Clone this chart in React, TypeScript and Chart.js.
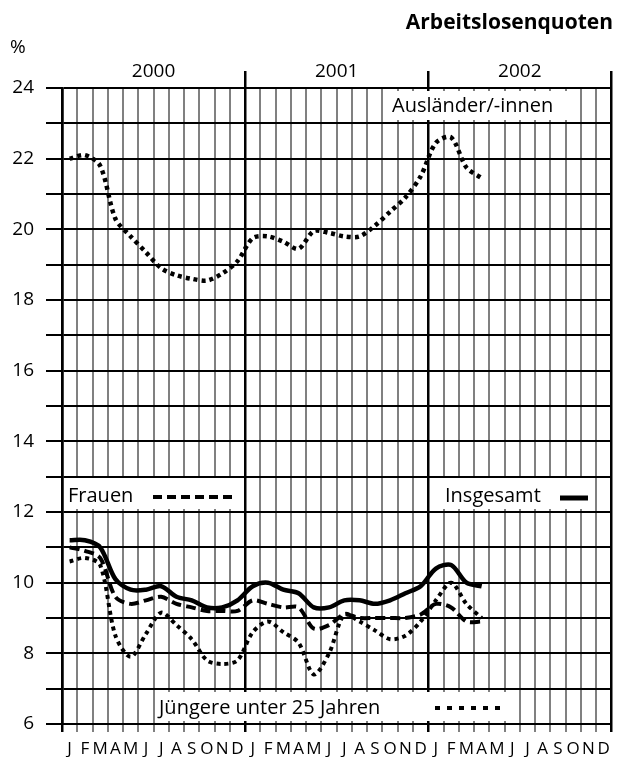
import React, { useEffect, useRef } from "react";
import { Chart, registerables } from "chart.js";

Chart.register(...registerables);

// ---- data ----
const monthLetters = ["J", "F", "M", "A", "M", "J", "J", "A", "S", "O", "N", "D"];
const monthLabels = [...monthLetters, ...monthLetters, ...monthLetters];
const yearLabels = ["2000", "2001", "2002"];

// Jan 2000 .. Apr 2002
const insgesamt = [
  11.2, 11.2, 11.0, 10.1, 9.8, 9.8, 9.9, 9.6, 9.5, 9.3, 9.3, 9.5,
  9.9, 10.0, 9.8, 9.7, 9.3, 9.3, 9.5, 9.5, 9.4, 9.5, 9.7, 9.9,
  10.4, 10.5, 10.0, 9.9,
];
const frauen = [
  11.0, 10.9, 10.7, 9.6, 9.4, 9.5, 9.6, 9.4, 9.3, 9.2, 9.2, 9.2,
  9.5, 9.4, 9.3, 9.3, 8.7, 8.8, 9.1, 9.0, 9.0, 9.0, 9.0, 9.1,
  9.4, 9.3, 8.9, 8.9,
];
const juengere = [
  10.6, 10.7, 10.5, 8.5, 7.9, 8.55, 9.15, 8.8, 8.4, 7.8, 7.7, 7.8,
  8.6, 8.9, 8.6, 8.3, 7.4, 8.0, 9.1, 8.9, 8.65, 8.4, 8.5, 8.9,
  9.5, 10.0, 9.4, 9.0,
];
const auslaender = [
  22.0, 22.1, 21.8, 20.3, 19.8, 19.35, 18.9, 18.7, 18.6, 18.55, 18.75, 19.1,
  19.75, 19.8, 19.65, 19.45, 19.95, 19.9, 19.8, 19.8, 20.1, 20.5, 20.9, 21.5,
  22.45, 22.6, 21.75, 21.45,
];

const yMin = 6;
const yMax = 24;
const titleText = "Arbeitslosenquoten";
const unitText = "%";
const labelInsgesamt = "Insgesamt";
const labelFrauen = "Frauen";
const labelJuengere = "Jüngere unter 25 Jahren";
const labelAuslaender = "Ausländer/-innen";

const FONT = "'Open Sans', 'DejaVu Sans', sans-serif";

const annotationPlugin = {
  id: "annotations",
  beforeDatasetsDraw(chart: any) {
    const ctx = chart.ctx as CanvasRenderingContext2D;
    ctx.save();
    const box = (x: number, y: number, w: number, h: number) => {
      ctx.fillStyle = "#fff";
      ctx.fillRect(x, y, w, h);
    };
    const text = (t: string, x: number, y: number) => {
      ctx.fillStyle = "#000";
      ctx.font = `20px ${FONT}`;
      ctx.textAlign = "left";
      ctx.textBaseline = "middle";
      ctx.fillText(t, x, y);
    };
    const sample = (x1: number, x2: number, y: number, w: number, dash: number[]) => {
      ctx.beginPath();
      ctx.setLineDash(dash);
      ctx.lineWidth = w;
      ctx.lineCap = "butt";
      ctx.strokeStyle = "#000";
      ctx.moveTo(x1, y);
      ctx.lineTo(x2, y);
      ctx.stroke();
      ctx.setLineDash([]);
    };
    // Ausländer/-innen
    box(388, 91, 180, 29);
    text(labelAuslaender, 392, 106);
    // Frauen
    box(64, 478, 174, 31);
    text(labelFrauen, 68, 496);
    sample(153, 234, 497, 4, [9, 5]);
    // Insgesamt
    box(441, 478, 150, 31);
    text(labelInsgesamt, 445, 496);
    sample(560, 588, 498, 5, []);
    // Jüngere
    box(155, 692, 357, 29);
    text(labelJuengere, 159, 708);
    sample(435, 506, 708, 4, [5, 7]);
    ctx.restore();
  },
  afterDraw(chart: any) {
    const ctx = chart.ctx as CanvasRenderingContext2D;
    ctx.save();
    ctx.fillStyle = "#000";
    ctx.textBaseline = "middle";
    ctx.font = `bold 21px ${FONT}`;
    ctx.textAlign = "right";
    ctx.fillText(titleText, 613, 23);
    ctx.font = `19px ${FONT}`;
    ctx.textAlign = "left";
    ctx.fillText(unitText, 10, 48);
    ctx.restore();
  },
};

export default function App() {
  const ref = useRef<HTMLCanvasElement | null>(null);

  useEffect(() => {
    if (!ref.current) return;
    Chart.defaults.font.family = FONT;
    const ds = (label: string, data: number[], width: number, dash: number[]) => ({
      label,
      data,
      borderColor: "#000",
      backgroundColor: "#000",
      borderWidth: width,
      borderDash: dash,
      borderCapStyle: "butt" as const,
      pointRadius: 0,
      tension: 0.3,
      fill: false,
      xAxisID: "x",
      yAxisID: "y",
    });
    const chart = new Chart(ref.current, {
      type: "line",
      data: {
        labels: monthLabels,
        datasets: [
          ds(labelAuslaender, auslaender, 4.5, [4, 4]),
          ds(labelJuengere, juengere, 4, [4, 4]),
          ds(labelFrauen, frauen, 4, [10, 5]),
          ds(labelInsgesamt, insgesamt, 4.5, []),
        ],
      },
      options: {
        animation: false,
        responsive: true,
        maintainAspectRatio: false,
        layout: { padding: { left: 0, right: 1, top: 0, bottom: 0 } },
        plugins: { legend: { display: false }, tooltip: { enabled: false }, title: { display: false } },
        scales: {
          x: {
            type: "category",
            position: "bottom",
            offset: true,
            grid: {
              offset: true,
              color: (c: any) => (c.index === undefined || c.index % 12 === 0 ? "#000" : "#808080"),
              lineWidth: (c: any) => (c.index === undefined || c.index % 12 === 0 ? 2.5 : 2),
              tickLength: 8,
            },
            border: { display: true, color: "#000", width: 2 },
            ticks: {
              autoSkip: false,
              maxRotation: 0,
              minRotation: 0,
              color: "#000",
              font: { size: 17 },
              padding: 7,
            },
            afterFit: (s: any) => {
              s.height = 33;
            },
          },
          xTop: {
            type: "category",
            position: "top",
            labels: yearLabels,
            offset: true,
            grid: {
              offset: true,
              drawOnChartArea: false,
              color: (c: any) => (c.index === 0 ? "rgba(0,0,0,0)" : "#000"),
              lineWidth: 2.5,
              tickLength: 17,
            },
            border: { display: false },
            ticks: { color: "#000", font: { size: 19 }, padding: -12, maxRotation: 0 },
            afterFit: (s: any) => {
              s.height = 88;
            },
          },
          y: {
            type: "linear",
            min: yMin,
            max: yMax,
            grid: { color: "#000", lineWidth: 2, tickLength: 16 },
            border: { display: true, color: "#000", width: 2.5 },
            ticks: {
              stepSize: 1,
              color: "#000",
              font: { size: 19 },
              padding: 12,
              callback: (v: any) => (Number(v) % 2 === 0 ? String(v) : ""),
            },
            afterFit: (s: any) => {
              s.width = 62;
            },
          },
        },
      },
      plugins: [annotationPlugin],
    });
    return () => chart.destroy();
  }, []);

  return (
    <div style={{ position: "absolute", left: 0, top: 0, width: 617, height: 757, background: "#fff" }}>
      <canvas ref={ref} />
    </div>
  );
}
